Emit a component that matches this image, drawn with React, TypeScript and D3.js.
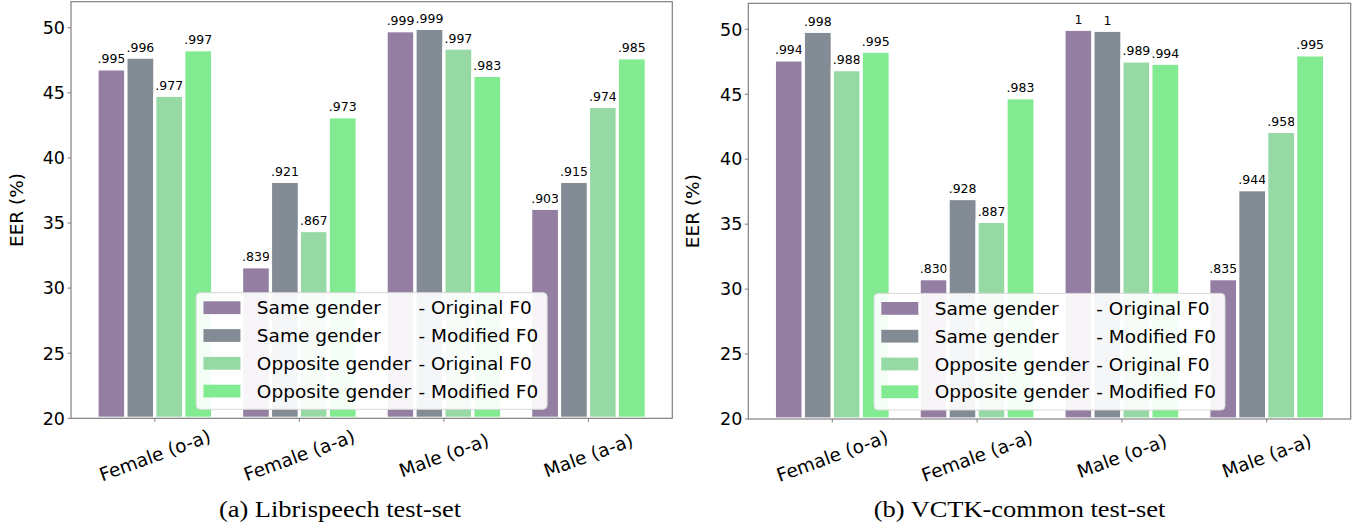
import React, { useEffect, useRef } from "react";
import * as d3 from "d3";

// Categories and legend entries
const categories = ["Female (o-a)", "Female (a-a)", "Male (o-a)", "Male (a-a)"];
const seriesLabels = ["Same gender", "Same gender", "Opposite gender", "Opposite gender"];
const seriesF0 = ["- Original F0", "- Modified F0", "- Original F0", "- Modified F0"];
const seriesColors = ["#947fa3", "#838b94", "#96d9a5", "#82eb91"];
const yTicks = [20, 25, 30, 35, 40, 45, 50];

// (a) Librispeech, EER (%)
const libriSameOrig = [46.84, 31.64, 49.77, 36.13];
const libriSameMod = [47.74, 38.2, 49.95, 38.2];
const libriOppOrig = [44.81, 34.42, 48.44, 43.96];
const libriOppMod = [48.31, 43.16, 46.34, 47.69];
// bar annotations
const libriSameOrigTxt = [".995", ".839", ".999", ".903"];
const libriSameModTxt = [".996", ".921", ".999", ".915"];
const libriOppOrigTxt = [".977", ".867", ".997", ".974"];
const libriOppModTxt = [".997", ".973", ".983", ".985"];

// (b) VCTK-common, EER (%)
const vctkSameOrig = [47.64, 30.8, 50.0, 30.8];
const vctkSameMod = [49.84, 36.97, 49.92, 37.65];
const vctkOppOrig = [46.89, 35.21, 47.56, 42.14];
const vctkOppMod = [48.31, 44.73, 47.38, 48.03];
const vctkSameOrigTxt = [".994", ".830", "1", ".835"];
const vctkSameModTxt = [".998", ".928", "1", ".944"];
const vctkOppOrigTxt = [".988", ".887", ".989", ".958"];
const vctkOppModTxt = [".995", ".983", ".994", ".995"];

const panels = [
  {
    series: [libriSameOrig, libriSameMod, libriOppOrig, libriOppMod],
    texts: [libriSameOrigTxt, libriSameModTxt, libriOppOrigTxt, libriOppModTxt],
    caption: "(a) Librispeech test-set",
    left: 71, right: 672.3, top: 1.7, bottom: 418.3, captionX: 340, ylabelX: 17,
  },
  {
    series: [vctkSameOrig, vctkSameMod, vctkOppOrig, vctkOppMod],
    texts: [vctkSameOrigTxt, vctkSameModTxt, vctkOppOrigTxt, vctkOppModTxt],
    caption: "(b) VCTK-common test-set",
    left: 748.3, right: 1350.7, top: 3.3, bottom: 419, captionX: 1019.5, ylabelX: 693,
  },
];

const sans = "DejaVu Sans, sans-serif";

function drawPanel(svg: any, p: any) {
  const g = svg.append("g");

  const x = d3.scaleLinear().domain([-0.58, 3.58]).range([p.left, p.right]);
  const y = d3.scaleLinear().domain([20, 52]).range([p.bottom, p.top]);
  const barW = 0.2;

  // Bars
  p.series.forEach((vals: number[], s: number) => {
    const off = (s - 1.5) * barW;
    g.append("g")
      .selectAll("rect")
      .data(vals)
      .join("rect")
      .attr("x", (_d: number, i: number) => x(i + off - barW / 2))
      .attr("width", x(barW) - x(0))
      .attr("y", (d: number) => y(d))
      .attr("height", (d: number) => y(20) - y(d))
      .attr("fill", seriesColors[s])
      .attr("stroke", "white")
      .attr("stroke-width", 3.2);

    // value labels
    g.append("g")
      .selectAll("text")
      .data(vals)
      .join("text")
      .attr("x", (_d: number, i: number) => x(i + off))
      .attr("y", (d: number) => y(d) - 5.5)
      .attr("text-anchor", "middle")
      .attr("font-family", sans)
      .attr("font-size", 12.5)
      .attr("fill", "black")
      .text((_d: number, i: number) => p.texts[s][i]);
  });

  // Frame
  g.append("rect")
    .attr("x", p.left)
    .attr("y", p.top)
    .attr("width", p.right - p.left)
    .attr("height", p.bottom - p.top)
    .attr("fill", "none")
    .attr("stroke", "#808080")
    .attr("stroke-width", 1.2);

  // Y axis ticks
  const yAxis = g.append("g");
  yTicks.forEach((t) => {
    yAxis.append("line")
      .attr("x1", p.left - 3.5).attr("x2", p.left)
      .attr("y1", y(t)).attr("y2", y(t))
      .attr("stroke", "#808080");
    yAxis.append("text")
      .attr("x", p.left - 6)
      .attr("y", y(t))
      .attr("dy", "0.36em")
      .attr("text-anchor", "end")
      .attr("font-family", sans)
      .attr("font-size", 17.5)
      .text(t);
  });

  // X axis ticks + rotated labels
  categories.forEach((c, i) => {
    g.append("line")
      .attr("x1", x(i)).attr("x2", x(i))
      .attr("y1", p.bottom).attr("y2", p.bottom + 3.5)
      .attr("stroke", "#808080");
    g.append("text")
      .attr("transform", `translate(${x(i)}, ${p.bottom + 37}) rotate(-20)`)
      .attr("text-anchor", "middle")
      .attr("dy", "0.35em")
      .attr("font-family", sans)
      .attr("font-size", 18.5)
      .text(c);
  });

  // Y axis label
  g.append("text")
    .attr("transform", `translate(${p.ylabelX}, ${(p.top + p.bottom) / 2}) rotate(-90)`)
    .attr("text-anchor", "middle")
    .attr("dy", "0.35em")
    .attr("font-family", sans)
    .attr("font-size", 18.5)
    .text("EER (%)");

  // Legend (lower center)
  const lw = 351, lh = 116.6;
  const lx = (p.left + p.right) / 2 - lw / 2;
  const ly = p.bottom - 9 - lh;
  const legend = g.append("g").attr("transform", `translate(${lx}, ${ly})`);
  legend.append("rect")
    .attr("width", lw).attr("height", lh)
    .attr("rx", 4)
    .attr("fill", "white").attr("fill-opacity", 0.92)
    .attr("stroke", "#d9d9d9");
  seriesLabels.forEach((lab, s) => {
    const cy = 15 + s * 27.8;
    legend.append("rect")
      .attr("x", 7.3).attr("y", cy - 6.4)
      .attr("width", 37).attr("height", 12.8)
      .attr("fill", seriesColors[s]);
    legend.append("text")
      .attr("x", 60.7).attr("y", cy)
      .attr("dy", "0.36em")
      .attr("font-family", sans)
      .attr("font-size", 18.5)
      .text(lab);
    legend.append("text")
      .attr("x", 222.3).attr("y", cy)
      .attr("dy", "0.36em")
      .attr("font-family", sans)
      .attr("font-size", 18.5)
      .text(seriesF0[s]);
  });

  // Caption (slightly wide serif, as in the paper figure)
  g.append("text")
    .attr("transform", `translate(${p.captionX}, 516.7) scale(1.15, 1)`)
    .attr("text-anchor", "middle")
    .attr("font-family", "Liberation Serif, Times New Roman, serif")
    .attr("font-size", 23)
    .text(p.caption);
}

export default function App() {
  const ref = useRef<SVGSVGElement>(null);

  useEffect(() => {
    const svg = d3.select(ref.current);
    svg.selectAll("*").remove();
    panels.forEach((p) => drawPanel(svg, p));
  }, []);

  return (
    <svg
      ref={ref}
      width={1359}
      height={529}
      style={{ position: "absolute", left: 0, top: 0, background: "white" }}
    />
  );
}
